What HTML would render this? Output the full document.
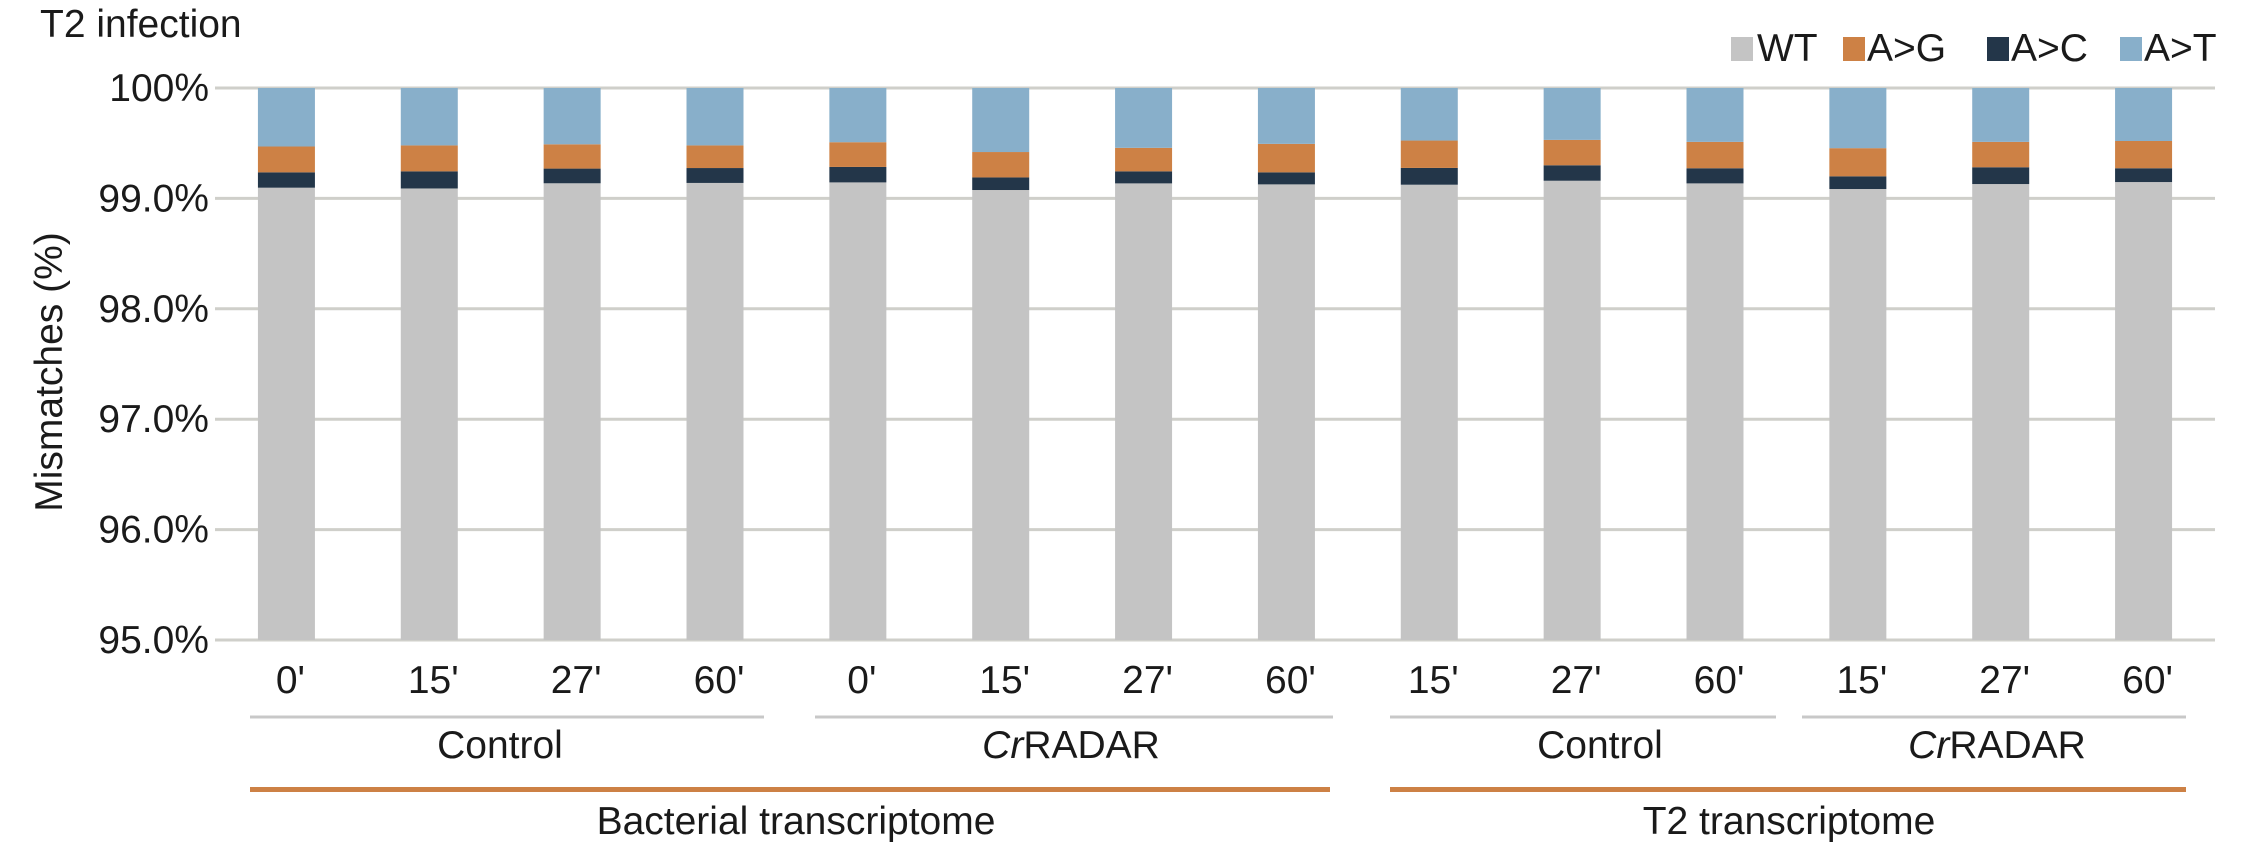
<!DOCTYPE html>
<html><head><meta charset="utf-8"><style>
html,body{margin:0;padding:0;background:#fff;}
svg{display:block;font-family:"Liberation Sans",Arial,sans-serif;}
</style></head><body>
<svg id="chart" width="2268" height="858" viewBox="0 0 2268 858" xmlns="http://www.w3.org/2000/svg">
<text x="40" y="37" font-size="39" fill="#1a1a1a">T2 infection</text>
<text transform="translate(62,372) rotate(-90)" text-anchor="middle" font-size="39" fill="#1a1a1a">Mismatches (%)</text>
<g id="grid"></g>
<g id="yticks"></g>
<g id="bars"></g>
<g id="xticks"></g>
<g>
<line x1="250" y1="717" x2="764" y2="717" stroke="#c8c8c8" stroke-width="3"/>
<line x1="815" y1="717" x2="1333" y2="717" stroke="#c8c8c8" stroke-width="3"/>
<line x1="1390" y1="717" x2="1776" y2="717" stroke="#c8c8c8" stroke-width="3"/>
<line x1="1802" y1="717" x2="2186" y2="717" stroke="#c8c8c8" stroke-width="3"/>
<text x="500" y="758" text-anchor="middle" font-size="39" fill="#1a1a1a">Control</text>
<text x="1071" y="758" text-anchor="middle" font-size="39" fill="#1a1a1a"><tspan font-style="italic">Cr</tspan>RADAR</text>
<text x="1600" y="758" text-anchor="middle" font-size="39" fill="#1a1a1a">Control</text>
<text x="1997" y="758" text-anchor="middle" font-size="39" fill="#1a1a1a"><tspan font-style="italic">Cr</tspan>RADAR</text>
<rect x="250" y="787" width="1080" height="5" fill="#cd8145"/>
<rect x="1390" y="787" width="796" height="5" fill="#cd8145"/>
<text x="796" y="834" text-anchor="middle" font-size="39" fill="#1a1a1a">Bacterial transcriptome</text>
<text x="1789" y="834" text-anchor="middle" font-size="39" fill="#1a1a1a">T2 transcriptome</text>
</g>
<g>
<g><rect x="1731" y="37" width="22" height="24" fill="#c4c4c4"/><text x="1757" y="61" font-size="39" fill="#1a1a1a">WT</text></g>
<g><rect x="1843" y="37" width="22" height="24" fill="#cd8145"/><text x="1867" y="61" font-size="39" fill="#1a1a1a">A&gt;G</text></g>
<g><rect x="1987" y="37" width="22" height="24" fill="#233649"/><text x="2011" y="61" font-size="39" fill="#1a1a1a">A&gt;C</text></g>
<g><rect x="2120" y="37" width="22" height="24" fill="#88afca"/><text x="2144" y="61" font-size="39" fill="#1a1a1a">A&gt;T</text></g>
</g>
</svg>
<script>
const categories = ["0'","15'","27'","60'","0'","15'","27'","60'","15'","27'","60'","15'","27'","60'"];
const wtValues  = [99.097,99.090,99.137,99.140,99.145,99.076,99.136,99.127,99.124,99.160,99.136,99.085,99.130,99.148];
const agValues  = [0.234,0.235,0.220,0.205,0.224,0.230,0.213,0.258,0.248,0.230,0.239,0.255,0.230,0.247];
const acValues  = [0.139,0.155,0.133,0.135,0.140,0.114,0.109,0.109,0.152,0.140,0.137,0.115,0.152,0.125];
const atValues  = [0.530,0.520,0.510,0.520,0.491,0.580,0.542,0.506,0.476,0.470,0.488,0.545,0.488,0.480];
const yTicks = [95,96,97,98,99,100];
const yTickLabels = ["95.0%","96.0%","97.0%","98.0%","99.0%","100%"];

(function(){
const NS="http://www.w3.org/2000/svg";
const plotLeft=215,plotRight=2215,plotTop=88,plotBottom=640,yMin=95,yMax=100;
function y(v){return plotBottom-(v-yMin)/(yMax-yMin)*(plotBottom-plotTop);}
const band=(plotRight-plotLeft)/categories.length;
function xc(i){return plotLeft+band*(i+0.5);}
const barW=57;
function mk(tag,attrs,parent){const e=document.createElementNS(NS,tag);for(const k in attrs)e.setAttribute(k,attrs[k]);parent.appendChild(e);return e;}
const grid=document.getElementById('grid'),yt=document.getElementById('yticks'),bars=document.getElementById('bars'),xt=document.getElementById('xticks');
yTicks.forEach((t,i)=>{
  const l=mk('line',{x1:plotLeft,x2:plotRight,y1:y(t),y2:y(t),stroke:'#cfcfca','stroke-width':3},grid);
  
  
  const tx=mk('text',{x:209,y:y(t)+13,'text-anchor':'end','font-size':39,fill:'#1a1a1a'},yt);
  tx.textContent=yTickLabels[i];
  
  
});
const series=[[wtValues,'#c4c4c4','wt'],[acValues,'#233649','a-c'],[agValues,'#cd8145','a-g'],[atValues,'#88afca','a-t']];
categories.forEach((c,i)=>{
  let base=yMin;
  series.forEach(([vals,col,nm])=>{
    const lo=base,hi=(nm==='wt')?vals[i]:base+vals[i];
    const r=mk('rect',{x:xc(i)-barW/2,y:y(hi),width:barW,height:y(lo)-y(hi),fill:col},bars);
    
    
    base=hi;
  });
  const tx=mk('text',{x:xc(i)+4,y:693,'text-anchor':'middle','font-size':39,fill:'#1a1a1a'},xt);
  tx.textContent=c;
  
  
});
})();
</script>
</body></html>
